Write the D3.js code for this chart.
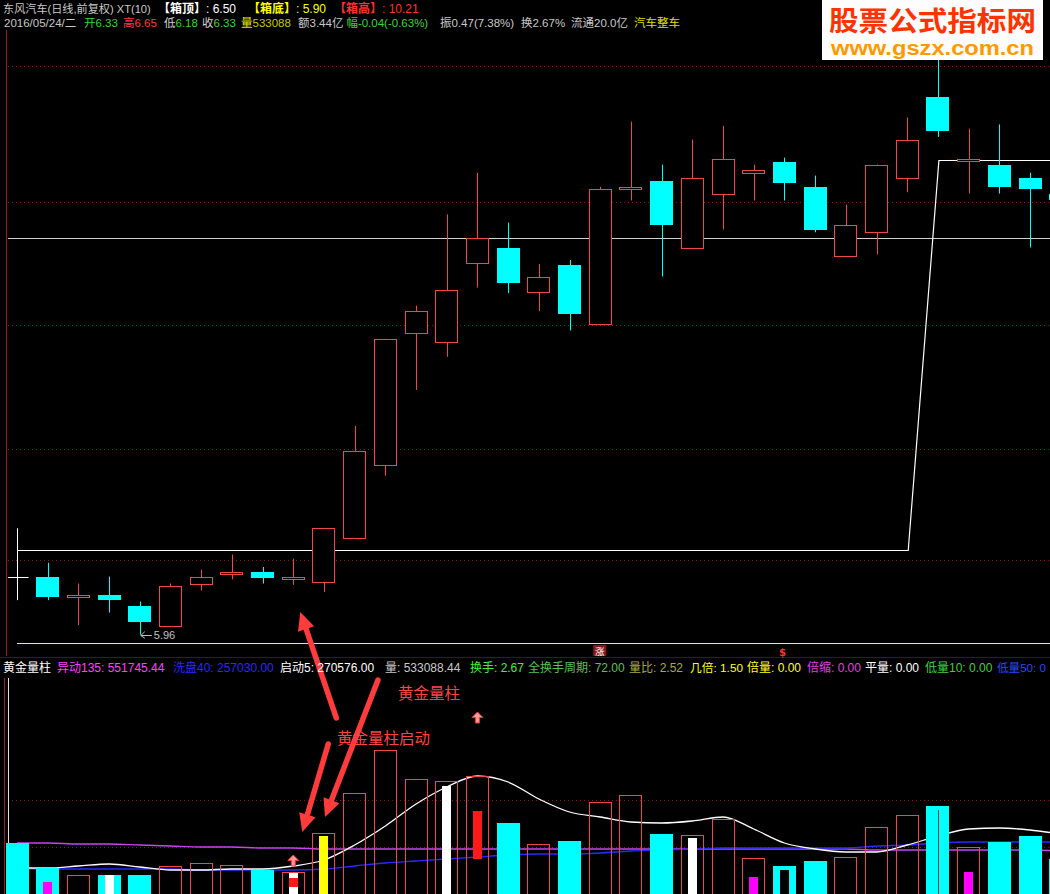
<!DOCTYPE html>
<html><head><meta charset="utf-8">
<script src="https://cdn.jsdelivr.net/npm/d3@7"></script>
<style>html,body{margin:0;padding:0;background:#000;overflow:hidden}svg{display:block}</style>
</head><body><svg id="c" width="1050" height="894"></svg>
<script>
// ---------------- DATA ----------------
const dayIndex = [0,1,2,3,4,5,6,7,8,9,10,11,12,13,14,15,16,17,18,19,20,21,22,23,24,25,26,27,28,29,30,31,32,33,34];
const openP  = [6.38,6.38,6.23,6.25,6.17,6.02,6.33,6.40,6.41,6.36,6.34,6.66,7.19,8.14,8.08,8.65,8.76,8.44,8.63,8.21,9.18,9.24,8.76,9.15,9.30,9.38,9.20,8.70,8.87,9.26,9.85,9.39,9.36,9.26,9.15];
const closeP = [6.38,6.23,6.25,6.21,6.05,6.31,6.38,6.41,6.37,6.38,6.73,7.29,8.10,8.30,8.45,8.83,8.50,8.55,8.28,9.18,9.20,8.92,9.26,9.40,9.32,9.23,8.89,8.92,9.36,9.54,9.60,9.40,9.20,9.18,9.10];
const highP  = [6.73,6.48,6.33,6.38,6.20,6.33,6.43,6.54,6.45,6.51,6.73,7.47,8.10,8.34,9.00,9.30,8.94,8.64,8.67,9.20,9.67,9.36,9.54,9.64,9.36,9.41,9.28,9.07,9.36,9.70,10.21,9.62,9.65,9.30,9.18];
const lowP   = [6.21,6.21,6.03,6.12,5.96,6.02,6.28,6.36,6.33,6.32,6.27,6.66,7.11,7.73,7.97,8.47,8.43,8.30,8.16,8.20,9.10,8.55,8.76,8.89,9.10,9.10,8.87,8.70,8.71,9.16,9.56,9.15,9.15,8.76,9.05];
const xtLine = [6.57,6.57,6.57,6.57,6.57,6.57,6.57,6.57,6.57,6.57,6.57,6.57,6.57,6.57,6.57,6.57,6.57,6.57,6.57,6.57,6.57,6.57,6.57,6.57,6.57,6.57,6.57,6.57,6.57,6.57,9.39,9.39,9.39,9.39,9.39];
const boxValues = [6.50, 5.90, 10.21];      // 箱顶, 箱底, 箱高
const refPrice = 8.83;
const gridPrices = [6.50, 7.30, 8.20, 9.09, 10.07];
const lowMarkValue = 5.96;

const volume = [142500,80000,62500,62500,62500,85000,92500,87500,75000,70000,167500,267500,375000,302500,297500,310000,192500,140000,147500,245000,262500,165000,162500,202500,105000,85000,97500,107500,182500,212500,235000,132500,145000,160000,102500];
const startVol5  = [80000,80000,85000,90000,82500,75000,75000,77500,77500,85000,100000,137500,185000,240000,282500,310000,295000,252500,220000,207500,195000,192500,197500,207500,177500,142500,127500,120000,120000,137500,160000,177500,180000,175000,165000];
const abnVol135  = [142500,142500,140000,140000,137500,135000,132500,132500,130000,130000,127500,127500,127500,127500,127500,127500,127500,127500,127500,127500,127500,127500,127500,127500,127500,127500,127500,127500,125000,125000,125000,125000,125000,125000,122500];
const washVol40  = [77500,77500,77500,77500,77500,77500,75000,75000,75000,75000,77500,85000,92500,97500,102500,107500,112500,115000,115000,117500,122500,125000,127500,130000,130000,130000,130000,130000,135000,137500,142500,145000,145000,145000,145000];
const volGrid = [132500, 250000];

const goldIdx = [10],        goldVol = [160000];
const whiteIdx = [3,9,14,22], whiteVol = [62500,67500,285000,155000];
const pinkIdx = [1,24,31],   pinkVol = [45000,57500,70000];
const blackIdx = [25],       blackVol = [75000];
const redBlockIdx = [9,15],  redBlockTop = [55000,222500], redBlockBot = [32500,102500];
const thinIdx = [30],        thinVol = [225000];
const upArrowIdx = [9,15],   upArrowVol = [85000,442500];

const header1 = ["东风汽车(日线,前复权) XT(10)", "【箱顶】", "【箱底】", "【箱高】"];
const header2 = ["2016/05/24/二","开","6.33","高","6.65","低","6.18","收","6.33","量","533088","额3.44亿","幅","-0.04(-0.63%)","振0.47(7.38%)","换2.67%","流通20.0亿","汽车整车"];
const indNames = ["黄金量柱","异动135","洗盘40","启动5","量","换手","全换手周期","量比","几倍","倍量","倍缩","平量","低量10","低量50"];
const indValues = [null,551745.44,257030.00,270576.00,533088.44,2.67,72.00,2.52,1.50,0.00,0.00,0.00,0.00,0];

// ---------------- SCALES ----------------
const svg = d3.select('#c');
const W = 1050, H = 894;
const FONT = '"Noto Sans CJK SC","Noto Sans",sans-serif';
const HFONT = '"Liberation Sans","Noto Sans CJK SC",sans-serif';
const x = d3.scaleLinear().domain([0,33]).range([17,1030]);
const py = d3.scaleLinear().domain([5.90,10.21]).range([643,47]);
const vy = d3.scaleLinear().domain([0,600000]).range([900,660]);
const bw = 23;
const RED = '#f04848', CYAN = '#00ffff', GREEN = '#3ad43a';
const snap = v => Math.round(v) + 0.5;

svg.append('rect').attr('width',W).attr('height',H).attr('fill','#000');
const defs = svg.append('defs');
defs.append('clipPath').attr('id','mainClip').append('rect').attr('x',8).attr('y',30).attr('width',W-8).attr('height',616);
defs.append('clipPath').attr('id','volClip').append('rect').attr('x',2).attr('y',678).attr('width',W-2).attr('height',H-678);

// ---------------- MAIN PANEL ----------------
const main = svg.append('g').attr('clip-path','url(#mainClip)');
main.selectAll('line.grid').data(gridPrices).join('line')
  .attr('x1',8).attr('x2',W).attr('y1',d=>snap(py(d))).attr('y2',d=>snap(py(d)))
  .attr('stroke','#8c1414').attr('stroke-dasharray','1,3');
main.append('line').attr('x1',8).attr('x2',W).attr('y1',snap(py(refPrice))).attr('y2',snap(py(refPrice)))
  .attr('stroke','#d0d0d0');
main.append('path').datum(dayIndex)
  .attr('d', d3.line().x(i=>x(i)+1).y(i=>snap(py(xtLine[i]))))
  .attr('fill','none').attr('stroke','#ffffff').attr('stroke-width',1.2);
main.append('line').attr('x1',x(0)).attr('x2',W).attr('y1',snap(py(boxValues[1]))).attr('y2',snap(py(boxValues[1])))
  .attr('stroke','#f4f43a');

const cg = main.selectAll('g.candle').data(dayIndex).join('g');
cg.each(function(i){
  const g = d3.select(this);
  const o = openP[i], c = closeP[i];
  const col = c > o ? RED : (c < o ? CYAN : '#ffffff');
  const cx = snap(x(i));
  g.append('line').attr('x1',cx).attr('x2',cx).attr('y1',py(highP[i])).attr('y2',py(lowP[i])).attr('stroke',col);
  if (c === o) {
    g.append('line').attr('x1',cx-11).attr('x2',cx+11).attr('y1',snap(py(o))).attr('y2',snap(py(o))).attr('stroke',col);
    return;
  }
  const top = Math.round(py(Math.max(o,c))), bot = Math.round(py(Math.min(o,c)));
  const h = Math.max(bot-top, 2);
  if (c > o) {
    g.append('rect').attr('x',Math.round(x(i)-bw/2)+0.5).attr('y',top+0.5).attr('width',bw-1).attr('height',h)
      .attr('fill','#000').attr('stroke',col);
  } else {
    g.append('rect').attr('x',Math.round(x(i)-bw/2)).attr('y',top).attr('width',bw).attr('height',h).attr('fill',col);
  }
});

// low marker  ←5.96
const lmx = x(4), lmy = py(lowMarkValue);
svg.append('path').attr('d',`M${lmx+12},${snap(lmy)}H${lmx+1}M${lmx+5},${lmy-3}L${lmx+1},${snap(lmy)}L${lmx+5},${lmy+3.5}`)
  .attr('stroke','#c0c0c0').attr('fill','none');
svg.append('text').attr('x',lmx+14).attr('y',lmy+4.5).attr('fill','#c0c0c0').attr('font-size',11)
  .attr('font-family','"Liberation Sans",Arial,sans-serif').text(lowMarkValue.toFixed(2));

// left border
svg.append('line').attr('x1',6.5).attr('x2',6.5).attr('y1',30).attr('y2',656).attr('stroke','#a01818');
svg.append('line').attr('x1',0).attr('x2',W).attr('y1',657.5).attr('y2',657.5).attr('stroke','#700000');

// 涨 and $ markers
const zx = x(19);
svg.append('rect').attr('x',zx-7).attr('y',645).attr('width',13).attr('height',11).attr('fill','#8a1818');
svg.append('text').attr('x',zx-0.5).attr('y',654.5).attr('text-anchor','middle').attr('fill','#fff')
  .attr('font-size',9.5).attr('font-family',FONT).text('涨');
svg.append('text').attr('x',x(25)-2).attr('y',656).attr('text-anchor','middle').attr('fill','#ff3030')
  .attr('font-size',10).attr('font-weight','bold').attr('font-family','"DejaVu Sans",sans-serif').text('$');

// ---------------- VOLUME PANEL ----------------
const vol = svg.append('g').attr('clip-path','url(#volClip)');
vol.selectAll('line.vgrid').data(volGrid).join('line')
  .attr('x1',8).attr('x2',W).attr('y1',d=>snap(vy(d))).attr('y2',d=>snap(vy(d)))
  .attr('stroke','#8c1414').attr('stroke-dasharray','1,3');
vol.append('line').attr('x1',8.5).attr('x2',8.5).attr('y1',660).attr('y2',H).attr('stroke','#e0e0e0');
vol.append('line').attr('x1',4.5).attr('x2',4.5).attr('y1',660).attr('y2',H).attr('stroke','#a01818');

const lineGen = arr => d3.line().x(i=>x(i)).y(i=>vy(arr[i])).curve(d3.curveMonotoneX)(dayIndex);
vol.append('path').attr('d',lineGen(abnVol135)).attr('fill','none').attr('stroke','#c844f0').attr('stroke-width',1.3);
vol.append('path').attr('d',lineGen(washVol40)).attr('fill','none').attr('stroke','#2a2aff').attr('stroke-width',1.3);
vol.append('path').attr('d',lineGen(startVol5)).attr('fill','none').attr('stroke','#ffffff').attr('stroke-width',1.3);

vol.selectAll('g.vbar').data(dayIndex).join('g').each(function(i){
  const g = d3.select(this);
  const top = Math.round(vy(volume[i]));
  if (closeP[i] > openP[i]) {
    g.append('rect').attr('x',Math.round(x(i)-bw/2)+0.5).attr('y',top+0.5).attr('width',bw-1).attr('height',H-top+5)
      .attr('fill','none').attr('stroke',RED);
  } else {
    g.append('rect').attr('x',Math.round(x(i)-bw/2)).attr('y',top).attr('width',bw).attr('height',H-top+5).attr('fill',CYAN);
  }
});
const inner = (idxs, vals, color) => idxs.forEach((i,k)=>{
  const top = Math.round(vy(vals[k]));
  vol.append('rect').attr('x',Math.round(x(i)-4.5)).attr('y',top).attr('width',9).attr('height',H-top+5).attr('fill',color);
});
inner(goldIdx, goldVol, '#ffff00');
inner(whiteIdx, whiteVol, '#ffffff');
inner(pinkIdx, pinkVol, '#ff00ff');
inner(blackIdx, blackVol, '#000000');
redBlockIdx.forEach((i,k)=>{
  const t = Math.round(vy(redBlockTop[k])), b = Math.round(vy(redBlockBot[k]));
  vol.append('rect').attr('x',Math.round(x(i)-4.5)).attr('y',t).attr('width',9).attr('height',b-t).attr('fill','#ff1a1a');
});
thinIdx.forEach((i,k)=>{
  vol.append('line').attr('x1',snap(x(i))).attr('x2',snap(x(i))).attr('y1',vy(thinVol[k])).attr('y2',H).attr('stroke','#a03030');
});
upArrowIdx.forEach((i,k)=>{
  const cx = x(i), b = vy(upArrowVol[k]);
  svg.append('path').attr('d',`M${cx},${b-11}L${cx+5.5},${b-5.5}L${cx+2},${b-5.5}L${cx+2},${b}L${cx-2},${b}L${cx-2},${b-5.5}L${cx-5.5},${b-5.5}Z`)
    .attr('fill','#ff9a9a').attr('stroke','#ff3030').attr('stroke-width',1);
});

// ---------------- ANNOTATIONS ----------------
function bigArrow(x1,y1,x2,y2){
  const a = Math.atan2(y2-y1,x2-x1), hl = 18, hw = 8.5;
  const bx = x2-hl*Math.cos(a), by = y2-hl*Math.sin(a);
  const px = -Math.sin(a), pyy = Math.cos(a);
  svg.append('line').attr('x1',x1).attr('y1',y1).attr('x2',bx).attr('y2',by)
    .attr('stroke','#ff3b3b').attr('stroke-width',5.5).attr('stroke-linecap','round');
  svg.append('path').attr('d',`M${x2},${y2}L${bx+hw*px},${by+hw*pyy}L${bx-hw*px},${by-hw*pyy}Z`).attr('fill','#ff3b3b');
}
const aTip = [x(9)+7, py(lowP[9])+27];
bigArrow(aTip[0]+36, aTip[1]+106, aTip[0], aTip[1]);
const bTip = [x(10)+1, vy(volume[10])-16];
bigArrow(bTip[0]+53, bTip[1]-137, bTip[0], bTip[1]);
const cTip = [x(9)+9, vy(volume[9])-40];
bigArrow(cTip[0]+26, cTip[1]-88, cTip[0], cTip[1]);

// ---------------- TEXT HELPERS ----------------
function seg(x0, maxW, y, text, color, opts){
  opts = opts || {};
  const size = opts.size || 12;
  const t = svg.append('text').attr('x',x0).attr('y',y).attr('fill',color).attr('font-size',size)
    .attr('font-family',opts.family || HFONT).attr('font-weight',opts.weight || 'normal').text(text);
  let len = t.node().getComputedTextLength();
  if (maxW && len > maxW) {
    t.attr('font-size', size*maxW/len);
    len = t.node().getComputedTextLength();
  }
  return x0 + len;
}

svg.append('text').attr('x',398).attr('y',699).attr('fill','#ff4444').attr('font-size',15.5).attr('font-family',FONT)
  .text(indNames[0]);
svg.append('text').attr('x',337).attr('y',744).attr('fill','#ff4444').attr('font-size',15.5).attr('font-family',FONT)
  .text(indNames[0]+'启动');

// header row 1
let e = seg(3, 148, 12.5, header1[0], '#c8c8c8');
e = seg(158, 0, 12.5, header1[1], '#ffffff', {weight:'bold'});
seg(e, 0, 12.5, ': '+boxValues[0].toFixed(2), '#ffffff');
e = seg(248, 0, 12.5, header1[2], '#ffff00', {weight:'bold'});
seg(e, 0, 12.5, ': '+boxValues[1].toFixed(2), '#ffff00');
e = seg(334, 0, 12.5, header1[3], '#ff3030', {weight:'bold'});
seg(e, 0, 12.5, ': '+boxValues[2].toFixed(2), '#ff3030');

// header row 2 : flowed, each segment starts at its reference position or right after the previous one
const r2start = [4,84,null,123,null,164,null,202,null,241,null,298,342,null,440,521,571,634];
const r2color = ['#c8c8c8',GREEN,GREEN,'#ff3a3a','#ff3a3a','#d0d0d0',GREEN,'#d0d0d0',GREEN,'#e8e800','#c8c800',
  '#c8c8c8',GREEN,GREEN,'#c8c8c8','#c8c8c8','#c8c8c8','#e0e000'];
let cur = 0;
header2.forEach((t,k)=>{
  const x0 = r2start[k] === null ? cur : Math.max(r2start[k], cur + 3);
  cur = seg(x0, 0, 26.5, t, r2color[k], {size:11.5});
});

// indicator row
const fmt = (v,k)=> k===13 ? String(v) : v.toFixed(2);
const r3 = [[3,'#ffffff'],[57,'#ff40ff'],[173,'#2828ff'],[280,'#ffffff'],[385,'#c8c8c8'],
  [470,'#40f040'],[528,'#58c058'],[629,'#a8a848'],[690,'#ffff20'],[747,'#ffff20'],
  [807,'#e040e0'],[865,'#ffffff'],[925,'#40d040'],[997,'#2848ff']];
r3.forEach((s,k)=>{
  const t = k===0 ? indNames[0] : indNames[k]+': '+fmt(indValues[k],k);
  const nx = k < r3.length-1 ? r3[k+1][0] : 1050;
  seg(s[0], nx - s[0] - 4, 672, t, s[1]);
});

// ---------------- LOGO ----------------
svg.append('rect').attr('x',822).attr('y',0).attr('width',221).attr('height',60).attr('fill','#fdfdfd');
svg.append('text').attr('x',829).attr('y',30.5).attr('fill','#ff3300').attr('font-size',27.5).attr('font-weight','bold')
  .attr('font-family',HFONT).attr('textLength',207).attr('lengthAdjust','spacingAndGlyphs').text('股票公式指标网');
svg.append('text').attr('x',831).attr('y',54.5).attr('fill','#ff9900').attr('font-size',20).attr('font-weight','bold')
  .attr('font-family','"Liberation Sans",Arial,sans-serif').attr('textLength',203).attr('lengthAdjust','spacingAndGlyphs')
  .text('www.gszx.com.cn');
</script></body></html>
